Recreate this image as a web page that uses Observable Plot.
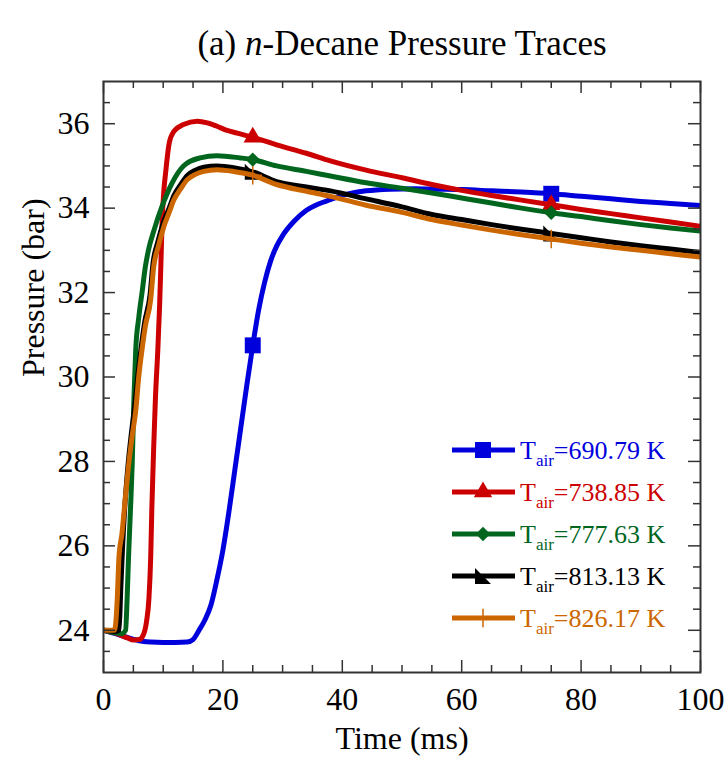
<!DOCTYPE html>
<html><head><meta charset="utf-8">
<script src="https://cdn.jsdelivr.net/npm/d3@7"></script>
<script src="https://cdn.jsdelivr.net/npm/@observablehq/plot@0.6"></script>
<style>
body{margin:0;background:#fff;}
svg{font-family:"Liberation Serif","Times New Roman",serif;}
</style>
</head><body><div id="chart"></div>
<script>
// ---- data ----
const t690 = [0,2,4,6,8,10,12,14,15,16,17,18,19,20,21,22,23,24,25,26,27,28,29,30,32,34,36,38,40,44,48,52,56,60,65,70,75,80,85,90,95,100];
const p690 = [24.0,23.92,23.83,23.75,23.72,23.71,23.71,23.72,23.78,24.0,24.25,24.6,25.2,25.9,26.8,27.8,28.8,29.8,30.75,31.6,32.25,32.75,33.1,33.35,33.7,33.95,34.1,34.2,34.3,34.41,34.45,34.46,34.45,34.44,34.41,34.38,34.34,34.28,34.22,34.16,34.11,34.06];

const t738 = [0,2,4,5,6,6.7,7.2,7.6,7.9,8.1,8.4,8.7,9.1,9.4,9.6,9.8,10.1,10.4,11.0,11.8,13.4,15.7,17.4,19.0,20.7,22.9,25,29,34,38,44,50,55,60,65,70,75,80,85,90,95,100];
const p738 = [24.0,23.93,23.82,23.77,23.78,23.9,24.2,24.73,25.7,26.9,28.3,29.5,30.65,31.7,32.6,33.6,34.4,34.83,35.54,35.82,35.98,36.06,36.02,35.94,35.84,35.76,35.68,35.5,35.3,35.12,34.9,34.72,34.56,34.42,34.3,34.19,34.08,33.97,33.87,33.77,33.67,33.57];

const t777 = [0,1,2,3,3.7,3.95,4.2,4.5,4.8,5.1,5.4,5.9,6.5,7.0,7.6,8.4,9.8,11.5,13.4,16.2,19.0,22.9,25,29,34,38,44,50,55,60,65,70,75,80,85,90,95,100];
const p777 = [24.0,23.97,23.94,23.92,24.0,24.73,25.76,26.8,27.9,29.5,30.65,31.4,32.05,32.6,33.05,33.45,34.04,34.6,35.0,35.19,35.24,35.19,35.15,35.0,34.87,34.76,34.6,34.47,34.36,34.24,34.12,34.0,33.89,33.8,33.7,33.61,33.53,33.46];

const t813 = [0,1,2,2.6,2.9,3.2,3.6,4.1,4.7,5.3,5.8,6.4,6.9,7.8,8.3,9.1,10.0,11.0,11.8,12.9,14.0,15.4,16.8,19.0,21.8,25,29,34,38,44,50,55,60,65,70,75,80,85,90,95,100];
const p813 = [24.0,23.99,23.97,24.0,25.0,26.0,27.0,27.9,28.7,29.4,30.1,30.8,31.3,31.95,32.7,33.2,33.65,34.0,34.3,34.55,34.77,34.9,34.97,35.0,34.96,34.86,34.63,34.5,34.41,34.22,34.03,33.85,33.73,33.61,33.5,33.4,33.3,33.2,33.11,33.03,32.95];

const t826 = [0,1,1.8,2.0,2.3,2.6,3.1,3.7,4.2,4.8,5.4,5.9,6.5,7.0,7.9,8.4,9.2,10.1,11.0,11.8,12.9,14.0,15.4,16.8,19.0,21.8,25,29,34,38,44,50,55,60,65,70,75,80,85,90,95,100];
const p826 = [24.0,24.0,24.0,24.1,24.73,25.76,26.3,27.2,27.9,28.6,29.2,30.0,30.7,31.2,31.83,32.6,33.1,33.56,33.9,34.2,34.45,34.67,34.8,34.87,34.91,34.87,34.78,34.56,34.4,34.28,34.07,33.9,33.73,33.6,33.48,33.37,33.27,33.17,33.08,33.0,32.92,32.84];

const seriesTemps = ["690.79","738.85","777.63","813.13","826.17"];
const seriesColors = ["#0000dd","#cc0000","#00661e","#000000","#cc6600"];
const markerTimes = [25, 75];

const xMajorTicks = [0,20,40,60,80,100];
const xMinorTicks = [5,10,15,25,30,35,45,50,55,65,70,75,85,90,95];
const yMajorTicks = [24,26,28,30,32,34,36];
const yMinorTicks = [23.5,24.5,25,25.5,26.5,27,27.5,28.5,29,29.5,30.5,31,31.5,32.5,33,33.5,34.5,35,35.5,36.5];

const titleText = ["(a) ", "n", "-Decane Pressure Traces"];
const xLabel = "Time (ms)";
const yLabel = "Pressure (bar)";

// ---- symbols ----
const cornerTriangle = {draw(ctx, size) {
  const h = Math.sqrt(size) / 2;
  ctx.moveTo(-h, -h); ctx.lineTo(h, h); ctx.lineTo(-h, h); ctx.closePath();
}};
const symbolSpecs = [
  {symbol: "square", r: 9, filled: true},
  {symbol: "triangle", r: 6.8, filled: true},
  {symbol: "diamond2", r: 6.5, filled: true},
  {symbol: cornerTriangle, r: 9, filled: true},
  {symbol: "plus", r: 6, filled: false}
];

const times = [t690, t738, t777, t813, t826];
const pressures = [p690, p738, p777, p813, p826];
const series = seriesTemps.map((name, i) => ({
  name, color: seriesColors[i],
  data: times[i].map((t, j) => ({t, p: pressures[i][j]})),
  ...symbolSpecs[i]
}));

// ---- layout ----
const W = 724, H = 765;
const mTop = 81, mBottom = 93, mLeft = 103, mRight = 24;
const FW = W - mLeft - mRight, FH = H - mTop - mBottom;
const axisColor = "#333";

const marks = [];
series.forEach(s => {
  marks.push(Plot.line(s.data, {x: "t", y: "p", stroke: s.color, strokeWidth: 5, curve: "monotone-x", clip: true}));
  const md = s.data.filter(d => markerTimes.includes(d.t));
  marks.push(Plot.dot(md, {x: "t", y: "p", symbol: () => s.symbol, r: s.r,
    fill: s.filled ? s.color : "none", stroke: s.color, strokeWidth: s.filled ? 0 : 1.5}));
});
// inward ticks on all sides
const tk = {stroke: axisColor, strokeWidth: 1.5};
marks.push(
  Plot.tickX(xMajorTicks, {x: d => d, insetTop: FH - 12, ...tk}),
  Plot.tickX(xMinorTicks, {x: d => d, insetTop: FH - 7, ...tk}),
  Plot.tickX(xMajorTicks, {x: d => d, insetBottom: FH - 12, ...tk}),
  Plot.tickX(xMinorTicks, {x: d => d, insetBottom: FH - 7, ...tk}),
  Plot.tickY(yMajorTicks, {y: d => d, insetRight: FW - 12, ...tk}),
  Plot.tickY(yMinorTicks, {y: d => d, insetRight: FW - 7, ...tk}),
  Plot.tickY(yMajorTicks, {y: d => d, insetLeft: FW - 12, ...tk}),
  Plot.tickY(yMinorTicks, {y: d => d, insetLeft: FW - 7, ...tk}),
  Plot.frame({stroke: axisColor, strokeWidth: 2}),
  Plot.axisX(xMajorTicks, {tickSize: 0, tickPadding: 15, fontSize: 32, label: null, fill: "#000"}),
  Plot.axisY(yMajorTicks, {tickSize: 0, tickPadding: 14, fontSize: 32, label: null, fill: "#000"}),
  Plot.text([xLabel], {text: d => d, frameAnchor: "bottom", dy: 76, fontSize: 32, fill: "#000"}),
  Plot.text([yLabel], {text: d => d, frameAnchor: "left", dx: -70, rotate: -90, fontSize: 32, fill: "#000"})
);

const chart = Plot.plot({
  width: W, height: H,
  marginTop: mTop, marginBottom: mBottom, marginLeft: mLeft, marginRight: mRight,
  x: {domain: [0, 100]},
  y: {domain: [23, 37]},
  style: {background: "#fff", fontFamily: "Liberation Serif, Times New Roman, serif", color: "#000"},
  marks
});
document.getElementById("chart").appendChild(chart);

const svg = d3.select(chart);
// title
const title = svg.append("text").attr("x", 402).attr("y", 55)
  .attr("text-anchor", "middle").attr("font-size", 35).attr("fill", "#000");
titleText.forEach((s, i) => title.append("tspan").attr("font-style", i === 1 ? "italic" : "normal").text(s));

// legend
const lg = svg.append("g").attr("text-anchor", "start");
series.forEach((s, i) => {
  const cy = 450 + i * 42;
  lg.append("line").attr("x1", 452).attr("x2", 515).attr("y1", cy).attr("y2", cy)
    .attr("stroke", s.color).attr("stroke-width", 5);
  const sym = typeof s.symbol === "string"
    ? {square: d3.symbolSquare, triangle: d3.symbolTriangle, diamond2: d3.symbolDiamond2, plus: d3.symbolPlus}[s.symbol]
    : s.symbol;
  lg.append("path").attr("transform", `translate(483,${cy})`)
    .attr("d", d3.symbol(sym, Math.PI * s.r * s.r)())
    .attr("fill", s.filled ? s.color : "none").attr("stroke", s.filled ? "none" : s.color).attr("stroke-width", 1.5);
  const tx = lg.append("text").attr("x", 520).attr("y", cy + 9).attr("font-size", 26)
    .attr("text-anchor", "start").attr("fill", s.color);
  tx.append("tspan").text("T");
  tx.append("tspan").attr("font-size", 17).attr("dy", 7).text("air");
  tx.append("tspan").attr("dy", -7).text(`=${s.name} K`);
});
</script>
</body></html>
